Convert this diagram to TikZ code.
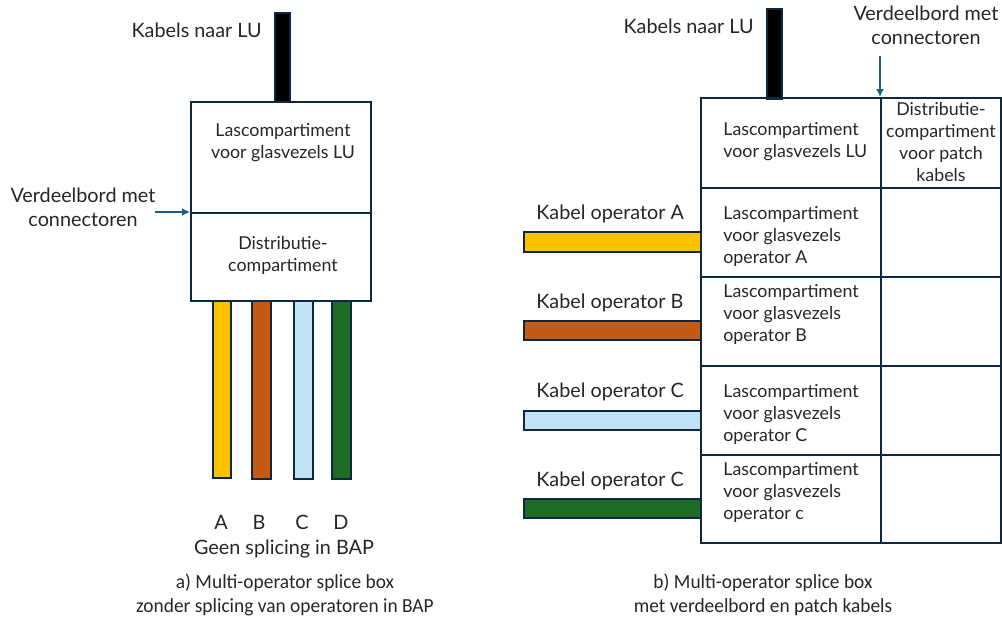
\documentclass[tikz,border=0pt]{standalone}
\usepackage{fontspec}
\setmainfont{Lato}
\newfontfamily\capfont[FakeStretch=0.97]{Carlito}
\usetikzlibrary{arrows.meta,positioning}
\definecolor{navy}{HTML}{0E2841}
\definecolor{arrowblue}{HTML}{156082}
\definecolor{opA}{HTML}{FFC000}
\definecolor{opB}{HTML}{C55A11}
\definecolor{opC}{HTML}{C0E4F6}
\definecolor{opD}{HTML}{1E6B24}

\begin{document}
\begin{tikzpicture}[x=0.5pt,y=-0.5pt,>={Latex[length=4pt,width=4pt]},font=\fontsize{8.9}{11}\selectfont,text=black!85]
	\tikzstyle{compart} = [draw=navy, line width=1pt, rectangle, inner sep=0pt, anchor=north west]
	\tikzstyle{cable} = [draw=navy, line width=0.8pt, rectangle, inner sep=0pt, anchor=north west]
	\tikzstyle{txt} = [inner sep=0pt, align=center]
	\tikzstyle{ltxt} = [inner sep=0pt, align=left, anchor=west]
	\tikzstyle{lbl} = [inner sep=0pt, align=center, font=\fontsize{9.9}{12}\selectfont]
	\tikzstyle{caption} = [inner sep=0pt, align=center, font=\capfont\fontsize{10}{12}\selectfont]
	\tikzstyle{pointer} = [->, draw=arrowblue, line width=1pt]
	\useasboundingbox (0,0) rectangle (1002,618);
	
	% a) left box
	\node [cable, fill=black, minimum width=7.5pt, minimum height=44.5pt] (lukabelL) at (274,12) {};
	\node [lbl, anchor=east] (lutxtL) at (262,30) {Kabels naar LU};
	\node [compart, minimum width=90pt, minimum height=55.5pt] (lulasL) at (190,101) {};
	\node [compart, minimum width=90pt, minimum height=44pt] (distrL) at (190,212) {};
	\node [txt] at (283,143) {Lascompartiment\\voor glasvezels LU};
	\node [txt] at (283,255) {Distributie-\\compartiment};
	\node [lbl] (vbL) at (83,207) {Verdeelbord met\\connectoren};
	\node [coordinate] (vbLstart) at (155,212) {};
	\draw [pointer] (vbLstart) -- (distrL.north west);
	
	\node [cable, fill=opA, minimum width=9pt, minimum height=88.5pt] (kA) at (212,300) {};
	\node [cable, fill=opB, minimum width=9.5pt, minimum height=89pt] (kB) at (251,300) {};
	\node [cable, fill=opC, minimum width=9.5pt, minimum height=89pt] (kC) at (293,300) {};
	\node [cable, fill=opD, minimum width=9.5pt, minimum height=89pt] (kD) at (331,300) {};
	\node [lbl] at (221,522) {A};
	\node [lbl] at (259,522) {B};
	\node [lbl] at (302,522) {C};
	\node [lbl] at (341,522) {D};
	\node [lbl] at (284,549) {Geen splicing in BAP};
	
	\node [caption] (capA) at (285,595) {a) Multi-operator splice box\\zonder splicing van operatoren in BAP};
	
	% b) right box
	\node [cable, fill=black, minimum width=7.5pt, minimum height=45pt] (lukabelR) at (766,8) {};
	\node [lbl, anchor=east] (lutxtR) at (754,26) {Kabels naar LU};
	\node [lbl] (vbR) at (926,25) {Verdeelbord met\\connectoren};
	
	\node [compart, minimum width=90pt, minimum height=45pt] (lulasR) at (700,97) {};
	\node [compart, minimum width=60pt, minimum height=45pt] (patch) at (880,97) {};
	\node [compart, minimum width=90pt, minimum height=44.5pt] (lasA) at (700,187) {};
	\node [compart, minimum width=60pt, minimum height=44.5pt] (pA) at (880,187) {};
	\node [compart, minimum width=90pt, minimum height=44.5pt] (lasB) at (700,276) {};
	\node [compart, minimum width=60pt, minimum height=44.5pt] (pB) at (880,276) {};
	\node [compart, minimum width=90pt, minimum height=44.5pt] (lasC) at (700,365) {};
	\node [compart, minimum width=60pt, minimum height=44.5pt] (pC) at (880,365) {};
	\node [compart, minimum width=90pt, minimum height=44pt] (lasD) at (700,454) {};
	\node [compart, minimum width=60pt, minimum height=44pt] (pD) at (880,454) {};
	
	\node [coordinate] (vbRstart) at (880,56) {};
	\draw [pointer] (vbRstart) -- (patch.north west);
	
	\node [ltxt] at (723,142) {Lascompartiment\\voor glasvezels LU};
	\node [txt] at (941,142) {Distributie-\\compartiment\\voor patch\\kabels};
	\node [ltxt] at (723,236) {Lascompartiment\\voor glasvezels\\operator A};
	\node [ltxt] at (723,314) {Lascompartiment\\voor glasvezels\\operator B};
	\node [ltxt] at (723,414) {Lascompartiment\\voor glasvezels\\operator C};
	\node [ltxt] at (723,492) {Lascompartiment\\voor glasvezels\\operator c};
	
	\node [cable, fill=opA, minimum width=88.5pt, minimum height=10pt] (rkA) at (523,231) {};
	\node [cable, fill=opB, minimum width=88.5pt, minimum height=9.5pt] (rkB) at (523,320) {};
	\node [cable, fill=opC, minimum width=88.5pt, minimum height=9.5pt] (rkC) at (523,410) {};
	\node [cable, fill=opD, minimum width=88.5pt, minimum height=9.5pt] (rkD) at (523,498) {};
	\node [lbl, anchor=west] at (536,214) {Kabel operator A};
	\node [lbl, anchor=west] at (536,303) {Kabel operator B};
	\node [lbl, anchor=west] at (536,392) {Kabel operator C};
	\node [lbl, anchor=west] at (536,481) {Kabel operator C};
	
	\node [caption] (capB) at (763,595) {b) Multi-operator splice box\\met verdeelbord en patch kabels};
	
\end{tikzpicture}
\end{document}
